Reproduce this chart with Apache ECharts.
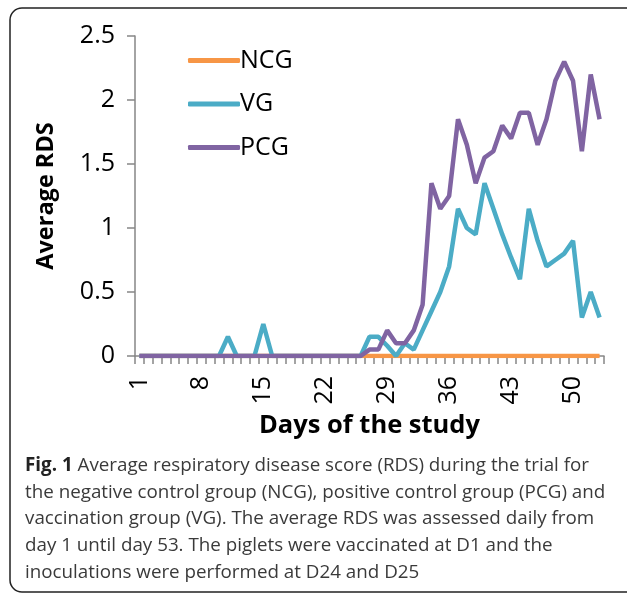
<!DOCTYPE html>
<html>
<head>
<meta charset="utf-8">
<script src="https://cdn.jsdelivr.net/npm/echarts@6/dist/echarts.min.js"></script>
<style>
html,body{margin:0;padding:0;background:#fff;}
#c{width:627px;height:595px;}
</style>
</head>
<body>
<div id="c"></div>
<script>
var days = [];
for (var d = 1; d <= 53; d++) days.push(String(d));

var NCG = [0,0,0,0,0,0,0,0,0,0, 0,0,0,0,0,0,0,0,0,0, 0,0,0,0,0,0,0,0,0,0, 0,0,0,0,0,0,0,0,0,0, 0,0,0,0,0,0,0,0,0,0, 0,0,0];
var VG  = [0,0,0,0,0,0,0,0,0,0, 0.15,0,0,0,0.25,0,0,0,0,0, 0,0,0,0,0,0,0.15,0.15,0.08,0, 0.1,0.05,0.2,0.35,0.5,0.7,1.15,1.0,0.95,1.35, 1.15,0.95,0.77,0.6,1.15,0.9,0.7,0.75,0.8,0.9, 0.3,0.5,0.3];
var PCG = [0,0,0,0,0,0,0,0,0,0, 0,0,0,0,0,0,0,0,0,0, 0,0,0,0,0,0,0.05,0.05,0.2,0.1, 0.1,0.2,0.4,1.35,1.15,1.25,1.85,1.65,1.35,1.55, 1.6,1.8,1.7,1.9,1.9,1.65,1.85,2.15,2.3,2.15, 1.6,2.2,1.85];

var seriesNames = ['NCG','VG','PCG'];
var colors = ['#F79646','#4BACC6','#8064A2'];

var captionLines = [
  [{t:'Fig. 1', b:true},{t:' Average respiratory disease score (RDS) during the trial for'}],
  [{t:'the negative control group (NCG), positive control group (PCG) and'}],
  [{t:'vaccination group (VG). The average RDS was assessed daily from'}],
  [{t:'day 1 until day 53. The piglets were vaccinated at D1 and the'}],
  [{t:'inoculations were performed at D24 and D25'}]
];

var chart = echarts.init(document.getElementById('c'), null, {renderer:'canvas'});
var FONT = 'Open Sans';

var capGraphics = [];
captionLines.forEach(function(line, i){
  var txt = line.map(function(s){ return s.b ? '{b|' + s.t + '}' : '{n|' + s.t + '}'; }).join('');
  capGraphics.push({
    type:'text', left: 25, top: 456 + i*26.8,
    style:{
      text: txt, fill:'#333',
      rich:{
        b:{fontFamily:FONT, fontSize:18.8, fontWeight:'bold', fill:'#222'},
        n:{fontFamily:FONT, fontSize:18.8, fill:'#3a3a3a'}
      }
    }
  });
});

var option = {
  animation:false,
  backgroundColor:'#fff',
  color: colors,
  grid:{left:135, right:23, top:36, bottom:239, containLabel:false},
  legend:{
    orient:'vertical', left:183, top:43,
    itemWidth:52, itemHeight:5, itemGap:18.5,
    icon:'roundRect',
    textStyle:{fontFamily:FONT, fontSize:25, color:'#000', padding:[0,0,0,-5], lineHeight:25},
    data: seriesNames
  },
  xAxis:{
    type:'category', data:days, boundaryGap:true,
    name:'Days of the study', nameLocation:'middle', nameGap:56,
    nameTextStyle:{fontFamily:FONT, fontSize:25.5, fontWeight:'bold', color:'#000'},
    axisLine:{lineStyle:{color:'#868686', width:1.5}},
    axisTick:{show:true, interval:0, length:8, lineStyle:{color:'#868686', width:1.5}},
    axisLabel:{interval:6, rotate:90, margin:20, fontFamily:FONT, fontSize:25, color:'#000'},
    splitLine:{show:false}
  },
  yAxis:{
    type:'value', min:0, max:2.5, interval:0.5,
    name:'Average RDS', nameLocation:'middle', nameGap:77,
    nameTextStyle:{fontFamily:FONT, fontSize:23.5, fontWeight:'bold', color:'#000'},
    axisLine:{show:true, lineStyle:{color:'#868686', width:1.5}},
    axisTick:{show:true, length:8, lineStyle:{color:'#868686', width:1.5}},
    axisLabel:{margin:20, fontFamily:FONT, fontSize:25, color:'#000'},
    splitLine:{show:false}
  },
  series:[
    {name:'NCG', type:'line', data:NCG, showSymbol:false, lineStyle:{width:4.5, color:colors[0]}, itemStyle:{color:colors[0]}},
    {name:'VG', type:'line', data:VG, showSymbol:false, lineStyle:{width:4.5, color:colors[1]}, itemStyle:{color:colors[1]}},
    {name:'PCG', type:'line', data:PCG, showSymbol:false, lineStyle:{width:4.5, color:colors[2]}, itemStyle:{color:colors[2]}}
  ],
  graphic:[
    {type:'rect', shape:{x:10, y:8, width:640, height:584, r:12}, style:{fill:null, stroke:'#222', lineWidth:1.5}, z:-1}
  ].concat(capGraphics)
};
chart.setOption(option);
</script>
</body>
</html>
